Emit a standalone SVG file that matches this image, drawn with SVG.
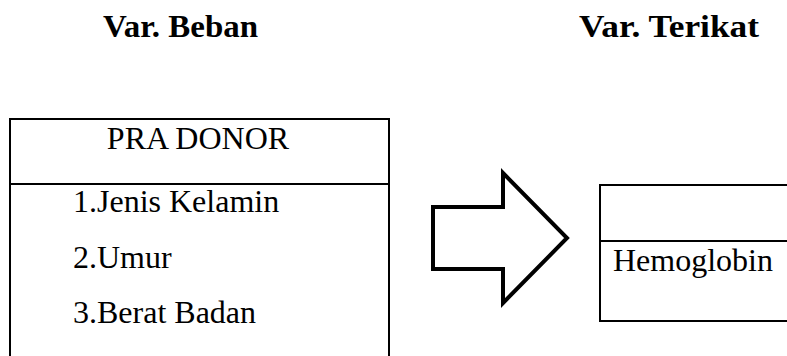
<svg xmlns="http://www.w3.org/2000/svg" width="787" height="356" viewBox="0 0 787 356">
  <style>
    .bg { fill: #ffffff; }
    .box { fill: none; stroke: #000000; stroke-width: 2; }
    .rule { stroke: #000000; stroke-width: 2; }
    .head { font-family: "Liberation Serif", "Times New Roman", serif; font-weight: bold; font-size: 32px; fill: #000000; }
    .txt { font-family: "Liberation Serif", "Times New Roman", serif; font-size: 32px; fill: #000000; }
    .arrow { fill: #ffffff; stroke: #000000; stroke-width: 4; stroke-linejoin: miter; }
  </style>
  <rect class="bg" x="0" y="0" width="787" height="356"/>

  <!-- column headings -->
  <g id="heading-beban">
    <text class="head" x="103" y="37" textLength="155" lengthAdjust="spacingAndGlyphs">Var. Beban</text>
  </g>
  <g id="heading-terikat">
    <text class="head" x="579" y="37" textLength="180" lengthAdjust="spacingAndGlyphs">Var. Terikat</text>
  </g>

  <!-- independent variables box (runs past the bottom edge) -->
  <g id="pra-donor">
    <path class="box" d="M10,370 V119 H389 V370"/>
    <line class="rule" x1="10" y1="184" x2="389" y2="184"/>
    <text class="txt" x="198" y="149" text-anchor="middle">PRA DONOR</text>
    <text class="txt" x="73" y="212">1.Jenis Kelamin</text>
    <text class="txt" x="73" y="268">2.Umur</text>
    <text class="txt" x="73" y="323">3.Berat Badan</text>
  </g>

  <!-- dependent variable box (runs past the right edge) -->
  <g id="hemoglobin">
    <path class="box" d="M800,185 H600 V321 H800"/>
    <line class="rule" x1="600" y1="241" x2="800" y2="241"/>
    <text class="txt" x="613" y="271">Hemoglobin</text>
  </g>

  <!-- block arrow between the boxes -->
  <g id="connectors">
    <polygon class="arrow" points="433,207 503,207 503,173 567,238 503,303 503,269 433,269"/>
  </g>
</svg>
